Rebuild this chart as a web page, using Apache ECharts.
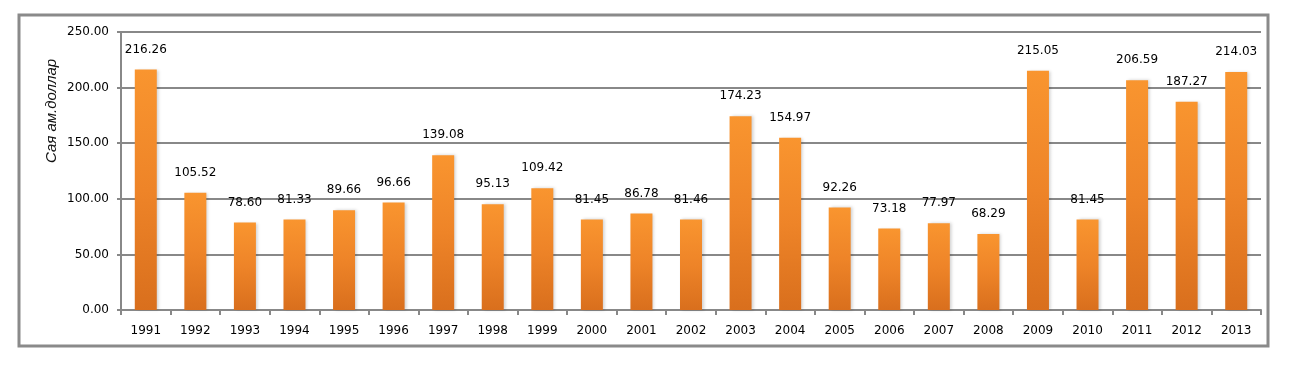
<!DOCTYPE html>
<html>
<head>
<meta charset="utf-8">
<script src="https://cdn.jsdelivr.net/npm/echarts@6/dist/echarts.min.js"></script>
<style>
html,body{margin:0;padding:0;background:#fff;}
#c{width:1312px;height:370px;}
</style>
</head>
<body>
<div id="c"></div>
<script>
const years = ['1991','1992','1993','1994','1995','1996','1997','1998','1999','2000','2001','2002','2003','2004','2005','2006','2007','2008','2009','2010','2011','2012','2013'];
const values = [216.26,105.52,78.60,81.33,89.66,96.66,139.08,95.13,109.42,81.45,86.78,81.46,174.23,154.97,92.26,73.18,77.97,68.29,215.05,81.45,206.59,187.27,214.03];
const yTitle = 'Сая ам.доллар';

const chart = echarts.init(document.getElementById('c'), null, {renderer:'canvas'});
const font = 'DejaVu Sans';
chart.setOption({
  animation:false,
  backgroundColor:'#fff',
  graphic:[
    {type:'rect', shape:{x:19,y:15,width:1249,height:331}, style:{fill:'none', stroke:'#8a8a8a', lineWidth:3}, z:-1},
    {type:'text', x:52, y:111, rotation:Math.PI/2,
     style:{text:yTitle, font:'italic 15px "Liberation Sans", Arial, sans-serif', fill:'#111', textAlign:'center', textVerticalAlign:'middle'}}
  ],
  grid:{left:121, right:51, top:32, bottom:60},
  xAxis:{
    type:'category', data:years, boundaryGap:true,
    axisLine:{lineStyle:{color:'#888', width:2}},
    axisTick:{show:true, alignWithLabel:false, length:5, lineStyle:{color:'#888', width:2}},
    axisLabel:{color:'#000', fontFamily:font, fontSize:12, margin:15}
  },
  yAxis:{
    type:'value', min:0, max:250, interval:50,
    axisLine:{show:true, lineStyle:{color:'#888', width:2}},
    axisTick:{show:true, length:4, lineStyle:{color:'#888', width:2}},
    splitLine:{lineStyle:{color:'#888', width:2}},
    axisLabel:{color:'#000', fontFamily:font, fontSize:12, margin:12, formatter:v=>v.toFixed(2)}
  },
  series:[{
    type:'bar', data:values, barWidth:22,
    itemStyle:{
      color:new echarts.graphic.LinearGradient(0,0,0,1,[
        {offset:0,color:'#F9952F'},
        {offset:0.5,color:'#EE8428'},
        {offset:1,color:'#D96F1D'}
      ]),
      shadowColor:'rgba(0,0,0,0.18)', shadowBlur:3, shadowOffsetX:2
    },
    label:{show:true, position:'top', distance:14, color:'#000', fontFamily:font, fontSize:12, formatter:p=>p.value.toFixed(2)}
  }]
});
</script>
</body>
</html>
